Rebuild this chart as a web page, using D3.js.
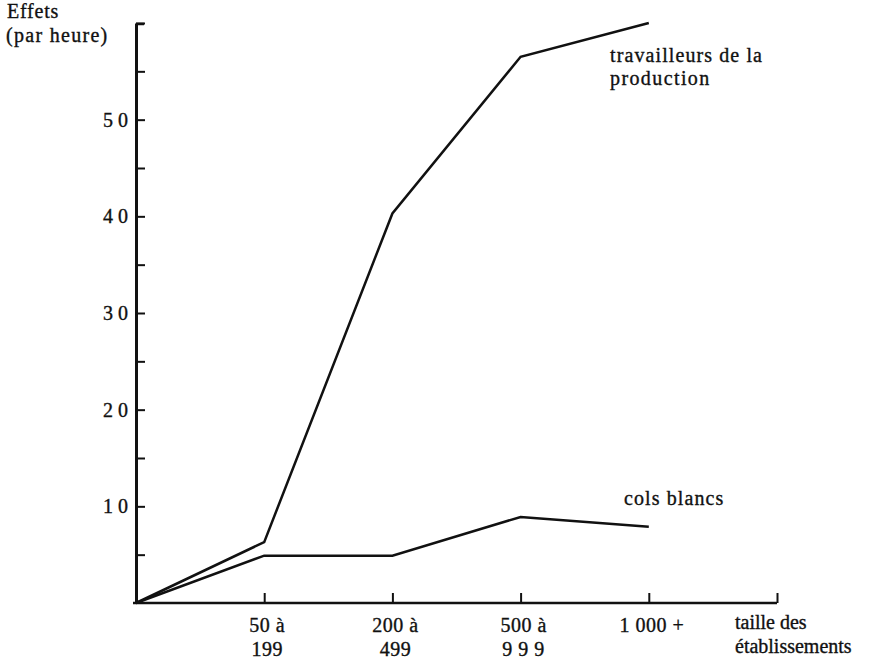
<!DOCTYPE html>
<html>
<head>
<meta charset="utf-8">
<script src="https://cdn.jsdelivr.net/npm/d3@7"></script>
<style>
  body { margin: 0; background: #fff; }
  text { font-family: "Liberation Serif", "DejaVu Serif", serif; fill: #111; stroke: #111; stroke-width: 0.35px; }
</style>
</head>
<body>
<script>
// categories (taille des établissements), index 0 = origin
const categories = [0, 1, 2, 3, 4];
const catLabels = [["50 à", "199"], ["200 à", "499"], ["500 à", "9 9 9"], ["1 000 +"]];
const production = [0, 6.3, 40.3, 56.5, 60];
const colsBlancs = [0, 4.9, 4.9, 8.9, 7.9];
const yTicks = [5, 10, 15, 20, 25, 30, 35, 40, 45, 50, 55, 60];
const yTickLabels = { 10: "1 0", 20: "2 0", 30: "3 0", 40: "4 0", 50: "5 0" };

const width = 873, height = 659;
const margin = ({ top: 23, right: 96, bottom: 56, left: 136 });

const svg = d3.select("body").append("svg")
  .attr("width", width)
  .attr("height", height);

const x = d3.scaleLinear()
  .domain([0, 5])
  .range([margin.left, width - margin.right]);

const y = d3.scaleLinear()
  .domain([0, 60])
  .range([height - margin.bottom, margin.top]);

const yAxis = g => {
  g
    .attr("transform", `translate(${margin.left},0)`)
    .call(d3.axisLeft(y).tickValues(yTicks).tickSizeInner(-9).tickSizeOuter(0).tickPadding(8)
      .tickFormat(d => yTickLabels[d] || ""))
    .call(g => g.select(".domain").attr("stroke-width", 3).attr("stroke", "#111"))
    .call(g => g.selectAll(".tick line").attr("stroke-width", 2).attr("stroke", "#111"))
    .call(g => g.selectAll(".tick text").attr("font-size", 20)
      .attr("font-family", "Liberation Serif").attr("fill", "#111"));
};

const xAxis = g => {
  g
    .attr("transform", `translate(0,${height - margin.bottom})`)
    .call(d3.axisBottom(x).tickValues([1, 2, 3, 4, 5]).tickSizeInner(-10).tickSizeOuter(0).tickFormat(""))
    .call(g => g.select(".domain").attr("stroke-width", 2.5).attr("stroke", "#111")
      .attr("d", `M${margin.left - 3},0H${x(5)}`))
    .call(g => g.selectAll(".tick line").attr("stroke-width", 2).attr("stroke", "#111"));
  // category labels
  catLabels.forEach((lines, i) => {
    const t = g.append("text")
      .attr("x", x(i + 1) + 3)
      .attr("y", 29)
      .attr("text-anchor", "middle")
      .attr("font-size", 20)
      .attr("letter-spacing", 0.5);
    lines.forEach((l, j) => t.append("tspan").attr("x", x(i + 1) + 3).attr("dy", j ? 24 : 0).text(l));
  });
  const t = g.append("text")
    .attr("x", 735)
    .attr("y", 26)
    .attr("text-anchor", "start")
    .attr("font-size", 20);
  t.append("tspan").attr("x", 735).text("taille des");
  t.append("tspan").attr("x", 735).attr("dy", 24).text("établissements");
};

svg.append("g").call(xAxis);
svg.append("g").call(yAxis);

// top cap of y axis
svg.append("line")
  .attr("x1", margin.left).attr("x2", margin.left + 8)
  .attr("y1", y(60) + 1).attr("y2", y(60) + 1)
  .attr("stroke", "#111").attr("stroke-width", 2.5);

const line = d3.line()
  .x((d, i) => x(categories[i]))
  .y(d => y(d));

[production, colsBlancs].forEach(s => {
  svg.append("path")
    .datum(s)
    .attr("fill", "none")
    .attr("stroke", "#111")
    .attr("stroke-width", 2.5)
    .attr("stroke-linejoin", "miter")
    .attr("d", line);
});

// axis title
const yt = svg.append("text").attr("x", 7).attr("y", 18).attr("font-size", 20).attr("letter-spacing", 0.8);
yt.append("tspan").attr("x", 7).text("Effets");
yt.append("tspan").attr("x", 6).attr("dy", 24).attr("letter-spacing", 1.3).text("(par heure)");

// series labels
const pl = svg.append("text").attr("x", 610).attr("y", 62).attr("font-size", 20).attr("letter-spacing", 1.1);
pl.append("tspan").attr("x", 610).text("travailleurs de la");
pl.append("tspan").attr("x", 610).attr("dy", 23).attr("letter-spacing", 1.4).text("production");

svg.append("text")
  .attr("x", 624).attr("y", 505)
  .attr("font-size", 20).attr("letter-spacing", 1.1)
  .text("cols blancs");
</script>
</body>
</html>
